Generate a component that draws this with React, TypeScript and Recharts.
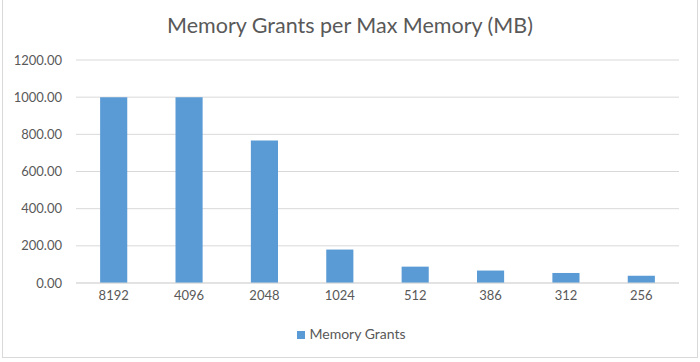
import React from "react";
import {
  Bar,
  BarChart,
  CartesianGrid,
  Legend,
  XAxis,
  YAxis,
} from "recharts";

const maxMemory = ["8192", "4096", "2048", "1024", "512", "386", "312", "256"];
const memoryGrants = [1000, 1000, 767, 180, 88, 67, 54, 39];
const yTicks = [0, 200, 400, 600, 800, 1000, 1200];

const data = maxMemory.map((name, i) => ({
  name,
  grants: memoryGrants[i],
}));

const font = "Lato, 'Open Sans', sans-serif";
const textColor = "#595959";

export default function App() {
  return (
    <div
      style={{
        position: "absolute",
        left: 0,
        top: 0,
        width: 700,
        height: 362,
        background: "#fff",
        fontFamily: font,
      }}
    >
      <div
        style={{
          position: "absolute",
          left: 2,
          top: 0,
          width: 694,
          height: 357,
          borderLeft: "1px solid #d9d9d9",
          borderRight: "1px solid #d9d9d9",
          borderBottom: "1px solid #d9d9d9",
        }}
      />
      <div
        style={{
          position: "absolute",
          top: 12,
          left: 0,
          width: 700,
          textAlign: "center",
          fontSize: 21.5,
          color: textColor,
        }}
      >
        Memory Grants per Max Memory (MB)
      </div>
      <BarChart
        width={700}
        height={362}
        data={data}
        margin={{ top: 60, right: 21, bottom: 49, left: 0 }}
        barCategoryGap="68%"
      >
        <CartesianGrid vertical={false} stroke="#d9d9d9" />
        <XAxis
          dataKey="name"
          axisLine={{ stroke: "#d9d9d9" }}
          tickLine={false}
          tickSize={0}
          tickMargin={8}
          height={30}
          tick={{ fill: textColor, fontSize: 13, fontFamily: font }}
        />
        <YAxis
          width={76}
          domain={[0, 1200]}
          ticks={yTicks}
          axisLine={false}
          tickLine={false}
          tickSize={0}
          tickMargin={14}
          tickFormatter={(v: number) => v.toFixed(2)}
          tick={{ fill: textColor, fontSize: 13, fontFamily: font }}
        />
        <Legend
          verticalAlign="middle"
          align="center"
          layout="horizontal"
          iconType="square"
          iconSize={8}
          wrapperStyle={{ top: 325, left: 17, fontSize: 14, fontFamily: font }}
          formatter={(value: string) => (
            <span style={{ color: textColor }}>{value}</span>
          )}
        />
        <Bar
          dataKey="grants"
          name="Memory Grants"
          fill="#5b9bd5"
          isAnimationActive={false}
        />
      </BarChart>
    </div>
  );
}
